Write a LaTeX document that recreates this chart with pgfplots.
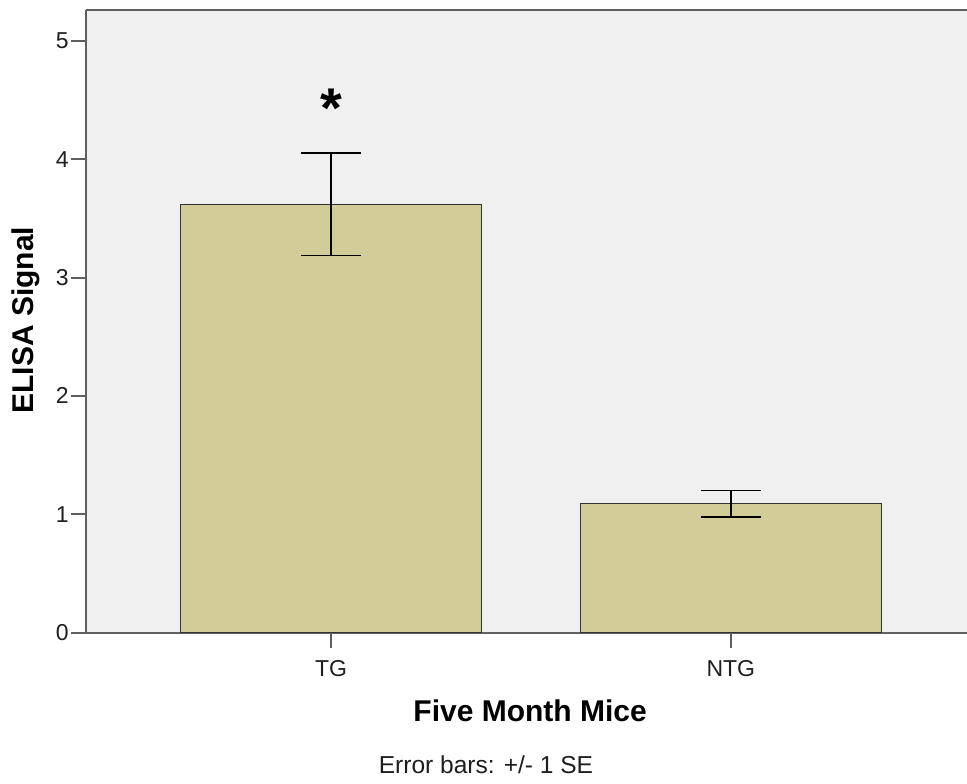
\documentclass[border=0pt]{standalone}
\usepackage{pgfplots}
\pgfplotsset{compat=1.18}
\usepackage{fontspec}
\setmainfont{Liberation Sans}
\definecolor{bgc}{HTML}{F0F0F0}
\definecolor{barc}{HTML}{D2CD98}
\definecolor{axc}{HTML}{5F5F5F}
\definecolor{txt}{HTML}{1E1E1E}
\begin{document}
\begin{tikzpicture}
\useasboundingbox (-64.875pt,-112.875pt) rectangle (660.375pt,474.375pt);
\begin{axis}[
  at={(0pt,0pt)}, anchor=south west,
  scale only axis, width=660.375pt, height=466.875pt,
  xmin=-0.612, xmax=1.591, ymin=0, ymax=5.262,
  axis x line*=bottom, axis y line*=left,
  axis line style={axc, line width=1.5pt},
  axis background/.style={fill=bgc},
  clip=false,
  ybar, bar width=0.752, bar shift=0pt,
  xtick={0,1}, xticklabels={TG,NTG},
  ytick={0,1,2,3,4,5},
  tick align=outside, major tick length=11.25pt,
  tick style={axc, line width=1.5pt},
  /pgf/number format/assume math mode=true,
  tick label style={font=\fontsize{17.25}{20}\selectfont, text=txt},
  yticklabel style={inner sep=0pt, xshift=-2pt},
  xticklabel style={inner sep=0pt, yshift=-9.5pt},
  xlabel={Five Month Mice},
  ylabel={ELISA Signal},
  xlabel style={font=\fontsize{22.5}{27}\selectfont\bfseries, at={(axis description cs:0.5038,-0.1261)}, anchor=center},
  ylabel style={font=\fontsize{22.5}{27}\selectfont\bfseries, at={(axis description cs:-0.0687,0.502)}, anchor=center},
]
\addplot[fill=barc, draw=black!80, line width=0.75pt,
  error bars/.cd, y dir=both, y explicit, error mark=|,
  error bar style={black, line width=1.1pt},
  error mark options={black, line width=1.1pt, mark size=22.5pt}]
  coordinates {(0,3.62) +- (0,0.435) (1,1.09) +- (0,0.112)};
\draw[axc, line width=1.5pt] (rel axis cs:0,1) -- (rel axis cs:1,1);
\node[font=\fontsize{42}{42}\selectfont\bfseries] at (axis cs:0,4.43) {*};
\end{axis}
\node[font=\fontsize{18.4}{22}\selectfont, text=txt] at (299.6pt,-99.4pt) {Error bars: +/- 1 SE};
\end{tikzpicture}
\end{document}
